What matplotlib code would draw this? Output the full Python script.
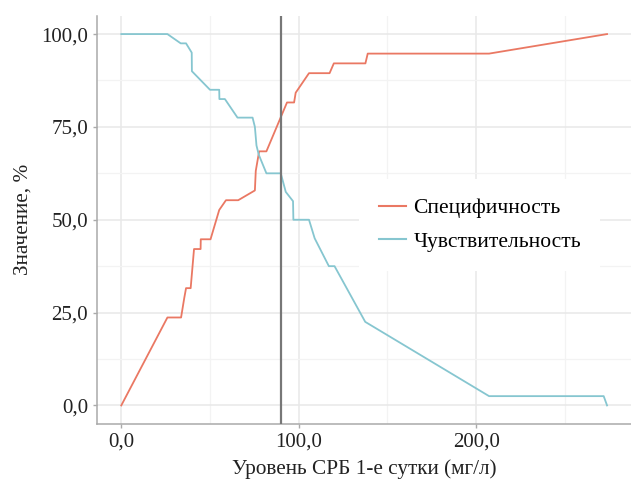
import numpy as np
import matplotlib.pyplot as plt
from matplotlib.ticker import FixedLocator, FuncFormatter

# -------------------------
# Data: cut-off curves
# -------------------------
spec_x = [0, 26, 33.7, 35.5, 36.5, 39.1, 41, 44.7, 44.8, 50.3, 55.2, 59, 65.9,
          75.3, 75.8, 77.7, 81.8, 93.4, 97.4, 98.3, 105.8, 117.4, 119.8,
          137.6, 138.9, 207.3, 273.8]
spec_y = [0, 23.68, 23.68, 28.95, 31.58, 31.58, 42.11, 42.11, 44.74, 44.74,
          52.63, 55.26, 55.26, 57.89, 63.16, 68.42, 68.42, 81.58, 81.58,
          84.21, 89.47, 89.47, 92.11, 92.11, 94.74, 94.74, 100]

sens_x = [0, 26, 33.5, 36.5, 39.7, 39.8, 50, 55.2, 55.3, 58.4, 65.5, 74,
          75.3, 76.2, 77.5, 81.8, 89.9, 92.7, 96.8, 97.0, 105.8, 109, 117,
          120.2, 137.5, 207.3, 271.9, 273.8]
sens_y = [100, 100, 97.5, 97.5, 95, 90, 85, 85, 82.5, 82.5, 77.5, 77.5,
          75, 70, 67.5, 62.5, 62.5, 57.5, 55, 50, 50, 45, 37.5, 37.5,
          22.5, 2.5, 2.5, 0]

cutoff = 90
x_ticks = [0, 100, 200]
y_ticks = [0, 25, 50, 75, 100]

plt.rcParams['font.family'] = ['Liberation Serif', 'DejaVu Serif']


def comma_fmt(v, pos):
    return f"{v:.1f}".replace(".", ",")


fig = plt.figure(figsize=(6.31, 4.80), dpi=100)
ax = fig.add_axes([0.1537, 0.1167, 0.8463, 0.851])

ax.plot(spec_x, spec_y, color="#EA7863", lw=1.3, label="Специфичность", zorder=3)
ax.plot(sens_x, sens_y, color="#86C6D0", lw=1.3, label="Чувствительность", zorder=3)
ax.axvline(cutoff, color="#777777", lw=1.6, zorder=4)

ax.set_xlim(-13.7, 287.3)
ax.set_ylim(-5, 105)

ax.xaxis.set_major_locator(FixedLocator(x_ticks))
ax.yaxis.set_major_locator(FixedLocator(y_ticks))
ax.xaxis.set_minor_locator(FixedLocator([50, 150, 250]))
ax.yaxis.set_minor_locator(FixedLocator([12.5, 37.5, 62.5, 87.5]))
ax.xaxis.set_major_formatter(FuncFormatter(comma_fmt))
ax.yaxis.set_major_formatter(FuncFormatter(comma_fmt))

ax.grid(which="major", color="#E8E8E8", lw=1.1, zorder=0)
ax.grid(which="minor", color="#F3F3F3", lw=0.9, zorder=0)
ax.set_axisbelow(True)

for side in ["top", "right"]:
    ax.spines[side].set_visible(False)
for side in ["left", "bottom"]:
    ax.spines[side].set_color("#AAAAAA")
    ax.spines[side].set_linewidth(1.1)

ax.tick_params(which="major", length=3, width=1, color="#AAAAAA",
               labelsize=15, labelcolor="#222222", pad=3.5)
ax.tick_params(which="minor", length=0)

ax.set_xlabel("Уровень СРБ 1-е сутки (мг/л)", fontsize=15.3, color="#222222", labelpad=5.5)
ax.set_ylabel("Значение, %", fontsize=15.3, color="#222222", labelpad=6)

leg = ax.legend(loc="center", bbox_to_anchor=(0.717, 0.487), fontsize=15.5,
                frameon=True, facecolor="white", edgecolor="none", framealpha=1,
                handlelength=1.25, handletextpad=0.37, labelspacing=0.63,
                borderpad=0.9, fancybox=False)
for line in leg.get_lines():
    line.set_linewidth(1.5)

fig.savefig("out.png", dpi=100)
